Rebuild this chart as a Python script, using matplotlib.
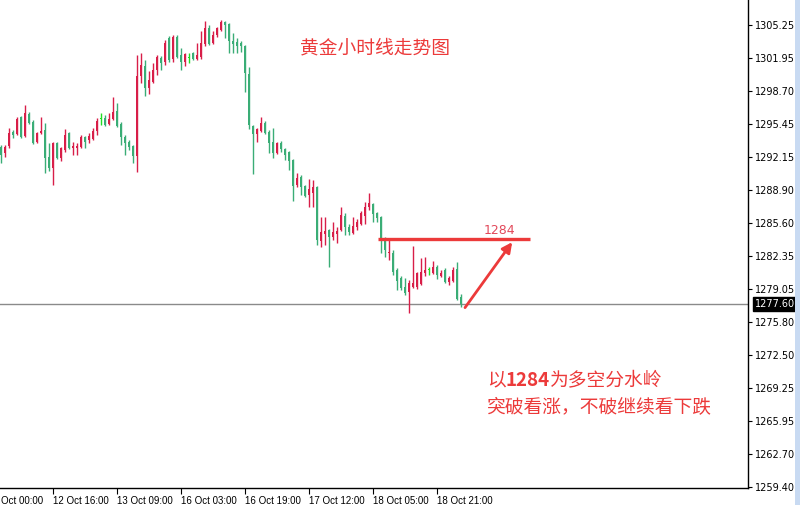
import numpy as np
import matplotlib
matplotlib.use("Agg")
import matplotlib.pyplot as plt
from matplotlib.patches import Rectangle

# hourly OHLC (first visible bar = 12 Oct 03:00)
opens = [1293.14, 1292.55, 1293.24, 1294.63, 1294.43, 1296.12, 1294.23, 1296.42, 1295.62, 1293.64,
         1294.53, 1294.83, 1292.15, 1291.06, 1293.54, 1292.05, 1292.84, 1294.53, 1293.04, 1293.04,
         1293.14, 1294.13, 1293.84, 1293.94, 1294.73, 1295.92, 1296.02, 1295.42, 1295.92, 1296.72,
         1295.42, 1294.13, 1293.64, 1293.24, 1292.25, 1300.19, 1301.18, 1299.00, 1299.59, 1300.78,
         1301.97, 1301.58, 1303.96, 1301.87, 1304.06, 1302.27, 1301.58, 1301.97, 1302.47, 1301.87,
         1302.07, 1303.36, 1304.95, 1303.46, 1304.26, 1304.75, 1305.55, 1305.35, 1303.66, 1303.56,
         1303.46, 1303.16, 1300.39, 1295.23, 1294.43, 1294.73, 1295.52, 1294.63, 1293.64, 1292.55,
         1293.54, 1292.94, 1292.65, 1291.85, 1289.37, 1290.16, 1289.27, 1288.38, 1288.58, 1289.17,
         1283.81, 1284.51, 1284.90, 1284.21, 1284.51, 1284.90, 1286.29, 1285.20, 1284.61, 1285.20,
         1285.50, 1286.29, 1287.19, 1287.49, 1286.59, 1286.19, 1284.11, 1282.62, 1282.62, 1280.94,
         1280.14, 1279.25, 1278.75, 1279.25, 1279.25, 1279.55, 1280.64, 1280.94, 1280.64, 1281.23,
         1280.34, 1280.94, 1279.74, 1279.84, 1281.03, 1278.26]
highs = [1293.34, 1293.34, 1295.03, 1294.83, 1296.12, 1296.22, 1297.31, 1296.62, 1295.82, 1294.63,
         1296.12, 1295.52, 1293.54, 1293.64, 1293.64, 1293.14, 1294.93, 1294.63, 1293.64, 1293.54,
         1294.33, 1294.23, 1294.53, 1295.03, 1296.02, 1296.52, 1296.32, 1296.52, 1298.10, 1297.51,
         1295.62, 1294.33, 1293.84, 1293.34, 1302.27, 1302.47, 1301.78, 1300.68, 1301.48, 1302.27,
         1302.17, 1303.76, 1304.16, 1304.26, 1304.26, 1302.97, 1302.47, 1302.47, 1302.57, 1303.46,
         1304.65, 1305.65, 1305.25, 1304.65, 1305.05, 1305.75, 1305.65, 1305.45, 1304.45, 1303.96,
         1303.66, 1303.26, 1301.08, 1295.33, 1295.03, 1296.12, 1295.72, 1294.83, 1295.03, 1293.64,
         1293.74, 1293.04, 1292.75, 1291.95, 1290.56, 1290.36, 1289.37, 1289.97, 1289.87, 1289.27,
         1286.19, 1286.19, 1285.00, 1285.70, 1285.20, 1287.19, 1286.59, 1285.50, 1286.19, 1286.00,
         1286.79, 1287.68, 1288.58, 1287.58, 1286.69, 1286.29, 1284.21, 1283.91, 1282.92, 1281.13,
         1280.34, 1280.14, 1279.94, 1283.32, 1280.74, 1282.13, 1282.23, 1281.23, 1281.83, 1281.43,
         1280.94, 1281.13, 1280.34, 1281.23, 1281.73, 1278.55]
lows = [1291.55, 1292.15, 1293.04, 1294.04, 1294.33, 1294.04, 1294.13, 1295.42, 1293.44, 1293.54,
        1294.43, 1290.56, 1290.76, 1289.37, 1291.95, 1291.75, 1292.65, 1292.94, 1292.35, 1292.35,
        1293.04, 1293.04, 1293.54, 1293.84, 1294.33, 1295.33, 1295.23, 1295.33, 1295.82, 1295.13,
        1293.34, 1292.35, 1292.84, 1291.55, 1290.66, 1299.49, 1298.20, 1298.40, 1299.49, 1300.29,
        1300.78, 1301.28, 1301.58, 1301.58, 1301.97, 1300.78, 1301.18, 1301.48, 1301.78, 1301.78,
        1301.87, 1303.16, 1303.26, 1303.36, 1304.06, 1304.65, 1303.96, 1302.47, 1302.47, 1302.47,
        1302.57, 1298.60, 1294.93, 1290.46, 1293.64, 1294.63, 1294.43, 1292.55, 1292.05, 1292.45,
        1292.65, 1291.85, 1290.86, 1287.78, 1289.17, 1288.38, 1288.18, 1287.19, 1287.19, 1283.42,
        1283.22, 1283.42, 1281.23, 1283.91, 1283.61, 1284.81, 1284.41, 1284.41, 1284.51, 1284.90,
        1285.40, 1285.50, 1286.89, 1285.70, 1285.70, 1282.62, 1282.23, 1281.93, 1280.44, 1278.95,
        1278.95, 1278.45, 1276.67, 1279.15, 1279.05, 1279.45, 1280.34, 1280.44, 1280.54, 1280.04,
        1280.24, 1279.64, 1279.45, 1279.74, 1277.96, 1277.26]
closes = [1292.35, 1293.14, 1294.53, 1294.33, 1295.92, 1294.13, 1296.52, 1295.52, 1293.54, 1294.53,
          1294.73, 1292.05, 1291.06, 1293.54, 1292.05, 1293.04, 1294.33, 1293.04, 1293.24, 1293.24,
          1294.13, 1293.64, 1294.23, 1294.73, 1295.72, 1295.92, 1295.33, 1295.92, 1296.62, 1295.23,
          1294.13, 1293.54, 1293.14, 1292.25, 1300.19, 1301.28, 1299.00, 1299.79, 1300.78, 1302.07,
          1301.48, 1303.46, 1301.78, 1304.06, 1302.07, 1301.58, 1302.37, 1301.97, 1301.87, 1302.27,
          1303.46, 1304.95, 1303.36, 1304.26, 1304.95, 1305.55, 1305.25, 1303.66, 1303.36, 1303.16,
          1303.16, 1300.49, 1295.33, 1294.43, 1294.93, 1295.52, 1294.53, 1293.54, 1292.55, 1293.54,
          1292.94, 1292.35, 1291.75, 1289.27, 1290.07, 1289.17, 1288.28, 1288.97, 1289.17, 1283.91,
          1284.71, 1284.81, 1284.21, 1284.71, 1284.81, 1286.39, 1285.20, 1284.71, 1285.30, 1285.70,
          1286.59, 1287.19, 1287.58, 1286.49, 1286.10, 1284.11, 1282.92, 1282.72, 1280.74, 1279.84,
          1279.15, 1278.65, 1279.64, 1279.64, 1280.64, 1280.74, 1280.94, 1280.94, 1281.23, 1280.44,
          1280.64, 1279.74, 1280.14, 1280.94, 1278.06, 1277.60]

price_ticks = [1305.25, 1301.95, 1298.70, 1295.45, 1292.15, 1288.90, 1285.60, 1282.35,
               1279.05, 1275.80, 1272.50, 1269.25, 1265.95, 1262.70, 1259.40]
# the 12 Oct 00:00 label is cut by the window edge; only its visible part is drawn
time_labels = ["Oct 00:00", "12 Oct 16:00", "13 Oct 09:00", "16 Oct 03:00",
               "16 Oct 19:00", "17 Oct 12:00", "18 Oct 05:00", "18 Oct 21:00"]
time_label_bars = [0, 16, 32, 48, 64, 80, 96, 112]
last_price = 1277.60
pivot = 1284.0

UP = "#d81e48"
DOWN = "#3aad76"
DOJI = "#22dd22"
RED = "#ec3a3a"
CJK = ["Noto Sans CJK SC", "DejaVu Sans"]

o, h, l, c = map(np.array, (opens, highs, lows, closes))
assert len(o) == len(h) == len(l) == len(c)
x = np.arange(len(o)) + 3
cols = np.where(c > o, UP, np.where(c < o, DOWN, DOJI))

W, H = 800, 505
fig = plt.figure(figsize=(W / 100, H / 100), dpi=100)
ax = fig.add_axes([0, 1 - 488 / H, 748 / W, 488 / H])

# candles: wick + body
ax.vlines(x, l, h, colors=cols, lw=1.0)
body = np.maximum(np.abs(c - o), 0.06)
ax.bar(x, body, bottom=np.minimum(o, c), width=0.72, color=cols, linewidth=0)

# current price line
ax.axhline(last_price, color="#8a8a8a", lw=1.0, zorder=1)

# 1284 pivot line + label
ax.plot([97.3, 135.3], [pivot, pivot], color=RED, lw=2.4, solid_capstyle="butt")
ax.text(123.6, pivot + 0.25, "1284", color="#e2485a", fontsize=9, ha="left", va="bottom")

# breakout arrow
ax.annotate("", xy=(130.8, 1283.7), xytext=(119.0, 1277.2),
            arrowprops=dict(arrowstyle="-|>", color=RED, lw=2.0, mutation_scale=15,
                            shrinkA=0, shrinkB=0))

for s in ("left", "top"):
    ax.spines[s].set_visible(False)
for s in ("right", "bottom"):
    ax.spines[s].set_color("black")
    ax.spines[s].set_linewidth(1.0)

ax.yaxis.tick_right()
ax.set_yticks(price_ticks)
ax.set_yticklabels([f"{p:.2f}" for p in price_ticks])
ax.tick_params(axis="y", length=3, width=0.8, pad=2, labelsize=7, colors="black")
ax.set_xticks(time_label_bars[1:])
ax.set_xticklabels(time_labels[1:], family="Liberation Sans")
ax.tick_params(axis="x", length=4, width=0.8, pad=1.5, labelsize=7, colors="black")
for t in ax.get_xticklabels():
    t.set_ha("left")

# limits last: set_xticks widens the view to include every tick
ax.set_xlim(2.75, 189.75)
ax.set_ylim(1259.30, 1307.73)

# visible remainder of the first time label, flush with the left edge
ax.annotate(time_labels[0], xy=(0, 0), xycoords="axes fraction",
            xytext=(0.5, -5.5), textcoords="offset points", ha="left", va="top",
            fontsize=7, family="Liberation Sans", color="black")

# current price tag
ax.annotate(f"{last_price:.2f}", xy=(1.0, last_price), xycoords=("axes fraction", "data"),
            xytext=(5, 0), textcoords="offset points", va="center", ha="left",
            fontsize=7, color="white",
            bbox=dict(boxstyle="square,pad=0.2", fc="black", ec="black"))

# light blue strip at the right edge
fig.patches.append(Rectangle((795 / W, 0), 5 / W, 1, transform=fig.transFigure,
                             fc="#c8daf2", ec="none"))

# texts
fig.text(300 / W, 1 - 48 / H, "黄金小时线走势图", family=CJK, fontsize=13.5,
         color=RED, ha="left", va="center")

renderer = fig.canvas.get_renderer()
xpos = 487
for txt, wt in (("以", "normal"), ("1284", "bold"), ("为多空分水岭", "normal")):
    t = fig.text(xpos / W, 1 - 380 / H, txt, family=CJK, fontsize=13.5, color=RED,
                 weight=wt, ha="left", va="center")
    xpos += t.get_window_extent(renderer).width
fig.text(487 / W, 1 - 407 / H, "突破看涨，不破继续看下跌", family=CJK, fontsize=13.5,
         color=RED, ha="left", va="center")

fig.savefig("out.png", dpi=100)
